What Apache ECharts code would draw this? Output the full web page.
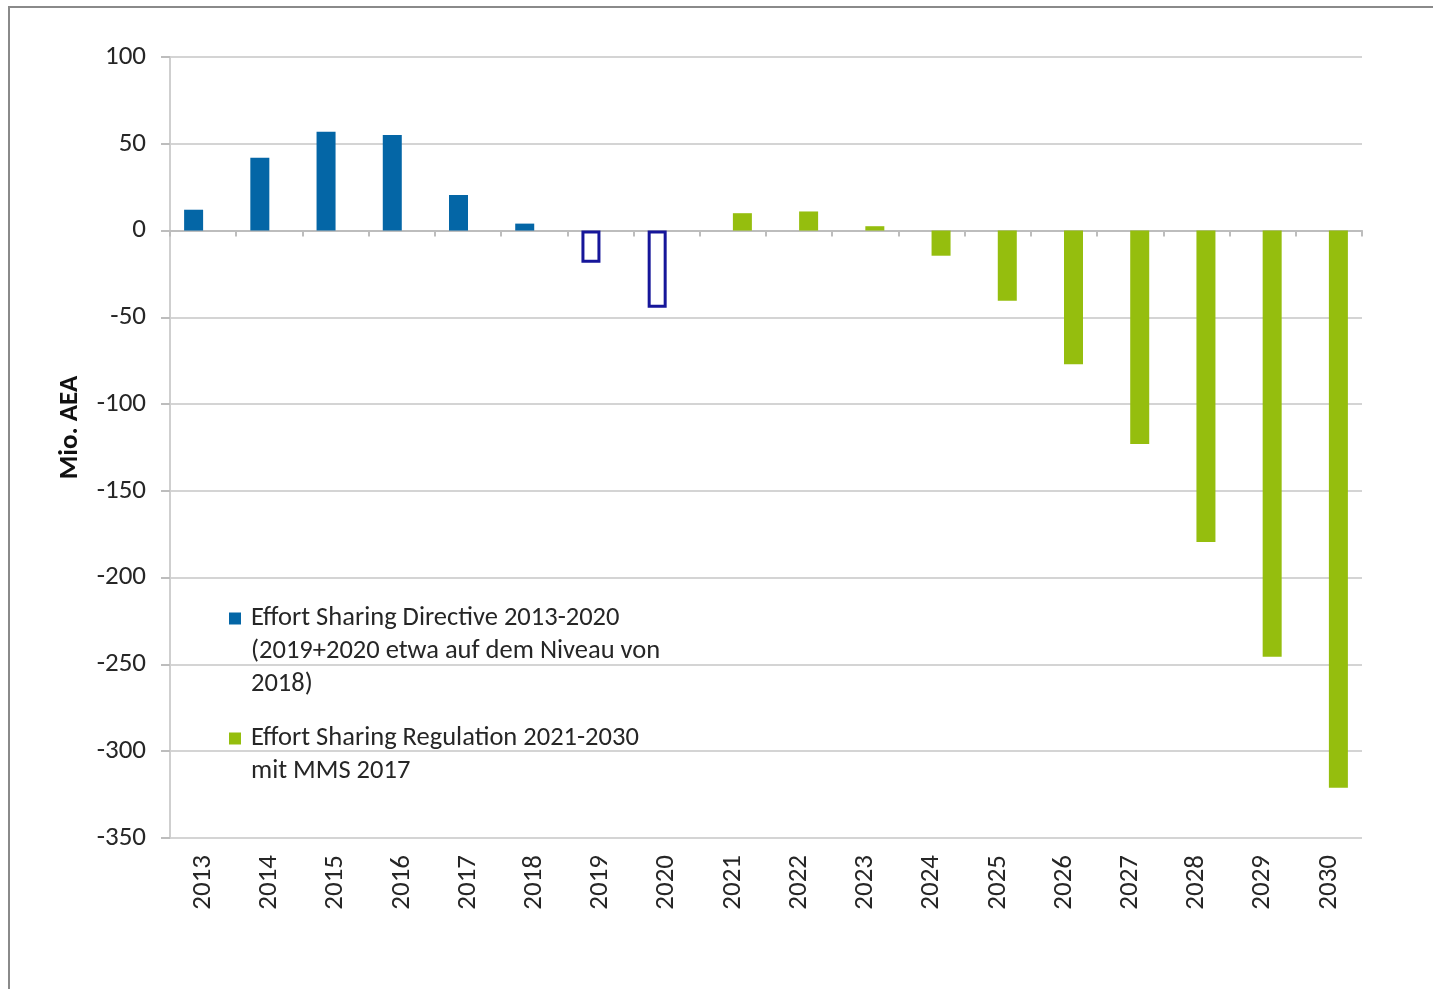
<!DOCTYPE html>
<html>
<head>
<meta charset="utf-8">
<script src="https://cdn.jsdelivr.net/npm/echarts@6/dist/echarts.min.js"></script>
<style>
  html, body { margin: 0; padding: 0; background: #fff; }
  #chart { width: 1433px; height: 989px; }
  #frame { position: absolute; left: 8px; top: 6px; width: 1425px; height: 983px;
           border-top: 2px solid #8a8a8a; border-left: 2px solid #8a8a8a; pointer-events: none; }
</style>
</head>
<body>
<div id="chart"></div>
<div id="frame"></div>
<script>
const years = ['2013', '2014', '2015', '2016', '2017', '2018', '2019', '2020', '2021',
  '2022', '2023', '2024', '2025', '2026', '2027', '2028', '2029', '2030']
// Effort Sharing Directive (2019/2020 = estimate, drawn hollow)
const esdValues = [12, 42, 57, 55, 20.5, 4, -18.5, -44.5, null, null, null, null, null, null, null, null, null, null]
const esdEstimated = ['2019', '2020']
// Effort Sharing Regulation
const esrValues = [null, null, null, null, null, null, null, null, 10, 11, 2.5, -14.5, -40.5, -77, -123, -179.5, -245.5, -321]
const yTicks = [100, 50, 0, -50, -100, -150, -200, -250, -300, -350]

const legendText = {
  esd: 'Effort Sharing Directive 2013-2020\n(2019+2020 etwa auf dem Niveau von\n2018)',
  esr: 'Effort Sharing Regulation 2021-2030\nmit MMS 2017'
}

const font = 'Carlito, Lato, "Open Sans", sans-serif'
const chart = echarts.init(document.getElementById('chart'))

const esdData = esdValues.map((v, i) => {
  if (esdEstimated.includes(years[i])) {
    return { value: v, itemStyle: { color: '#ffffff', borderColor: '#16169a', borderWidth: 3 } }
  }
  return v
})

chart.setOption({
  animation: false,
  grid: { left: 170, right: 71, top: 57, bottom: 151 },
  legend: {
    orient: 'vertical',
    left: 229,
    top: 536,
    padding: 0,
    itemWidth: 12,
    itemHeight: 12,
    itemGap: -12,
    icon: 'rect',
    // blank lines keep the marker level with the first text line
    formatter: name => name === 'esd' ? '\n\n' + legendText.esd : '\n' + legendText.esr,
    textStyle: { fontFamily: font, fontSize: 26.5, color: '#262626', lineHeight: 33, padding: [0, 0, 0, 5] }
  },
  xAxis: [
    {
      type: 'category',
      data: years,
      position: 'bottom',
      axisLine: { onZero: false, show: false },
      axisTick: { show: false },
      axisLabel: { rotate: 90, margin: 17, fontFamily: font, fontSize: 27, color: '#262626' }
    },
    {
      type: 'category',
      data: years,
      position: 'bottom',
      axisLine: { onZero: true, lineStyle: { color: '#bdbdbd', width: 2 } },
      axisTick: { show: true, length: 6, lineStyle: { color: '#bdbdbd', width: 2 } },
      axisLabel: { show: false }
    }
  ],
  yAxis: {
    type: 'value',
    min: -350,
    max: 100,
    interval: 50,
    name: 'Mio. AEA',
    nameLocation: 'middle',
    nameGap: 86,
    // left padding nudges the rotated title up a little
    nameTextStyle: { fontFamily: font, fontSize: 27, fontWeight: 'bold', color: '#111', padding: [0, 0, 0, 40] },
    axisLine: { show: true, lineStyle: { color: '#cfcfcf', width: 2 } },
    axisTick: { show: true, length: 9, lineStyle: { color: '#bdbdbd', width: 2 } },
    axisLabel: { margin: 24, fontFamily: font, fontSize: 27, color: '#262626' },
    splitLine: { lineStyle: { color: '#d4d4d4', width: 2 } }
  },
  series: [
    {
      name: 'esd',
      type: 'bar',
      data: esdData,
      barWidth: 19,
      barGap: '0%',
      itemStyle: { color: '#0466a6' }
    },
    {
      name: 'esr',
      type: 'bar',
      data: esrValues,
      barWidth: 19,
      barGap: '0%',
      itemStyle: { color: '#95be0e' }
    }
  ]
})
</script>
</body>
</html>
